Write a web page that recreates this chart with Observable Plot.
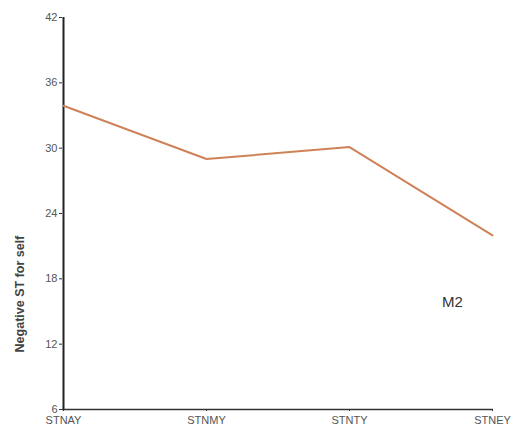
<!DOCTYPE html>
<html><head><meta charset="utf-8">
<script src="https://cdn.jsdelivr.net/npm/d3@7"></script>
<script src="https://cdn.jsdelivr.net/npm/@observablehq/plot@0.6"></script>
<style>body{margin:0;background:#fff;font-family:Arial,"Liberation Sans",sans-serif}</style>
</head><body><div id="chart"></div>
<script>
const categories = ["STNAY", "STNMY", "STNTY", "STNEY"];
const values = [33.9, 29.0, 30.1, 22.0];
const yTicks = [6, 12, 18, 24, 30, 36, 42];
const yLabel = "Negative ST for self";
const annotation = "M2";

const data = categories.map((c, i) => ({cat: c, v: values[i]}));

const chart = Plot.plot({
  width: 519, height: 430,
  marginLeft: 62, marginRight: 26, marginTop: 17, marginBottom: 21,
  style: {fontFamily: "Arial, 'Liberation Sans', sans-serif", background: "#fff"},
  x: {type: "point", domain: categories, padding: 0},
  y: {domain: [6, 42]},
  marks: [
    Plot.axisY({ticks: yTicks, tickSize: 3, tickPadding: 2, label: null, fontSize: 11, color: "#555", stroke: "#333"}),
    Plot.axisX({tickSize: 2, tickPadding: 5, label: null, fontSize: 11, color: "#555", stroke: "#333"}),
    Plot.ruleY([6], {stroke: "#333", strokeWidth: 1.5}),
    Plot.ruleX([categories[0]], {stroke: "#222", strokeWidth: 2}),
    Plot.line(data, {x: "cat", y: "v", stroke: "#cf8258", strokeWidth: 2}),
    Plot.text([yLabel], {x: () => categories[0], y: () => 16.6, rotate: -90, dx: -44, fontSize: 12.5, fontWeight: "bold", fill: "#444"}),
    Plot.text([annotation], {x: () => categories[3], y: () => 15.9, dx: -40, fontSize: 15, fill: "#333"})
  ]
});
document.getElementById("chart").appendChild(chart);
</script></body></html>
